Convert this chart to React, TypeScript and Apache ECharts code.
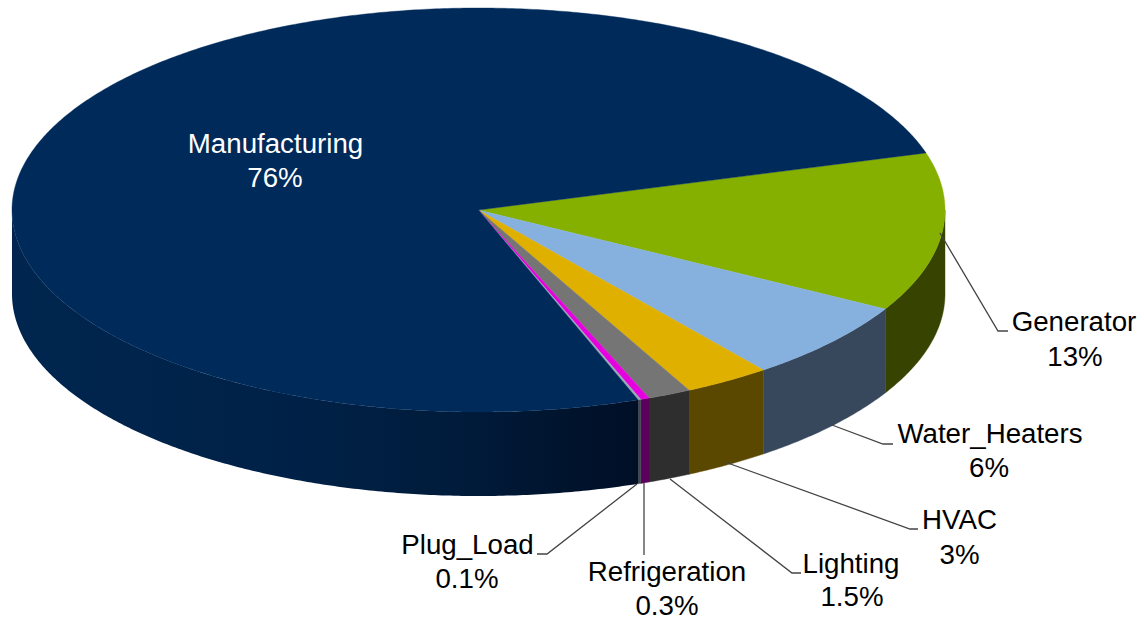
import React, { useEffect, useRef } from "react";
import * as echarts from "echarts";

const categories = ["Generator", "Water_Heaters", "HVAC", "Lighting", "Refrigeration", "Plug_Load", "Manufacturing"];
const shares = [12.7, 6.4, 3, 1.5, 0.3, 0.1, 76];
const shareLabels = ["13%", "6%", "3%", "1.5%", "0.3%", "0.1%", "76%"];
const topColors = ["#85b000", "#86b1df", "#e0b000", "#757575", "#e600e0", "#9aa8b8", "#002a5a"];
const sideColors = ["#374300", "#37485c", "#5b4800", "#2e2e2e", "#5c005c", "#3d4652", "#002650"];

const CX = 478.5, CY = 210, RX = 466.5, RY = 202, DEPTH = 84, START_DEG = -16.4;
const FONT = "'Liberation Sans', Arial, sans-serif";
const FONT_SIZE = 27.7;

const total = shares.reduce((a, b) => a + b, 0);
const pt = (deg: number, dy = 0): number[] => {
  const r = (deg * Math.PI) / 180;
  return [CX + RX * Math.cos(r), CY + RY * Math.sin(r) + dy];
};
const arc = (from: number, to: number, dy = 0): number[][] => {
  const out: number[][] = [];
  const n = Math.max(2, Math.ceil(Math.abs(to - from) / 0.5));
  for (let i = 0; i <= n; i++) out.push(pt(from + ((to - from) * i) / n, dy));
  return out;
};

const renderSlice = (params: any, api: any) => {
  const i = params.dataIndex;
  const before = shares.slice(0, i).reduce((a, b) => a + b, 0);
  const from = START_DEG + (before / total) * 360;
  const to = from + (api.value(0) / total) * 360;
  const children: any[] = [];
  // visible wall: the front half of the ellipse, 0..180 degrees
  const wallFrom = Math.max(from, 0);
  const wallTo = Math.min(to, 180);
  if (wallTo > wallFrom) {
    const isLong = i === shares.length - 1;
    const fill = isLong
      ? new echarts.graphic.LinearGradient(1, 0, 0, 0, [
          { offset: 0, color: "#000f26" },
          { offset: 0.12, color: "#00142e" },
          { offset: 0.3, color: "#001c3c" },
          { offset: 0.55, color: "#002147" },
          { offset: 1, color: "#00264f" },
        ])
      : sideColors[i];
    children.push({
      type: "polygon",
      shape: { points: [...arc(wallFrom, wallTo), ...arc(wallTo, wallFrom, DEPTH)] },
      style: { fill, stroke: isLong ? "none" : sideColors[i], lineWidth: isLong ? 0 : 0.4 },
    });
  }
  children.push({
    type: "polygon",
    shape: { points: [[CX, CY], ...arc(from, to)] },
    style: { fill: topColors[i], stroke: topColors[i], lineWidth: 0.4 },
  });
  return { type: "group", children };
};

const leaderLines: number[][][] = [
  [[940, 233], [998, 331], [1008, 331]],
  [[832, 425], [883, 444], [893, 444]],
  [[725, 462], [910, 529], [918, 529]],
  [[670, 479], [792, 573], [801, 573]],
  [[644, 483], [644, 555]],
  [[637, 484], [547, 554], [537, 554]],
];
const labelPlaces: number[][] = [
  [1074, 321, 1075, 356],
  [990, 433, 989, 467],
  [959.5, 519, 959.5, 554],
  [851, 563, 852, 596],
  [667, 571, 667, 605],
  [467.5, 544, 467, 578],
  [275.5, 143.5, 275, 177.5],
];

export default function App() {
  const ref = useRef<HTMLDivElement>(null);
  useEffect(() => {
    if (!ref.current) return;
    const chart = echarts.init(ref.current, undefined, { renderer: "svg" });
    const textEl = (x: number, y: number, text: string, fill: string) => ({
      type: "text",
      x,
      y,
      z: 10,
      style: { text, fill, font: `${FONT_SIZE}px ${FONT}`, textAlign: "center", textVerticalAlign: "middle" },
    });
    chart.setOption({
      animation: false,
      backgroundColor: "#ffffff",
      series: [
        {
          type: "custom",
          coordinateSystem: "none",
          silent: true,
          renderItem: renderSlice,
          data: shares.map((v, i) => ({ name: categories[i], value: [v] })),
        },
      ],
      graphic: [
        ...leaderLines.map((points) => ({
          type: "polyline",
          z: 9,
          shape: { points },
          style: { stroke: "#444444", lineWidth: 1.3, fill: "none" },
        })),
        ...categories.flatMap((name, i) => {
          const [nx, ny, px, py] = labelPlaces[i];
          const color = i === categories.length - 1 ? "#ffffff" : "#000000";
          return [textEl(nx, ny, name, color), textEl(px, py, shareLabels[i], color)];
        }),
      ],
    });
    return () => chart.dispose();
  }, []);
  return <div ref={ref} style={{ position: "absolute", left: 0, top: 0, width: 1144, height: 620 }} />;
}
